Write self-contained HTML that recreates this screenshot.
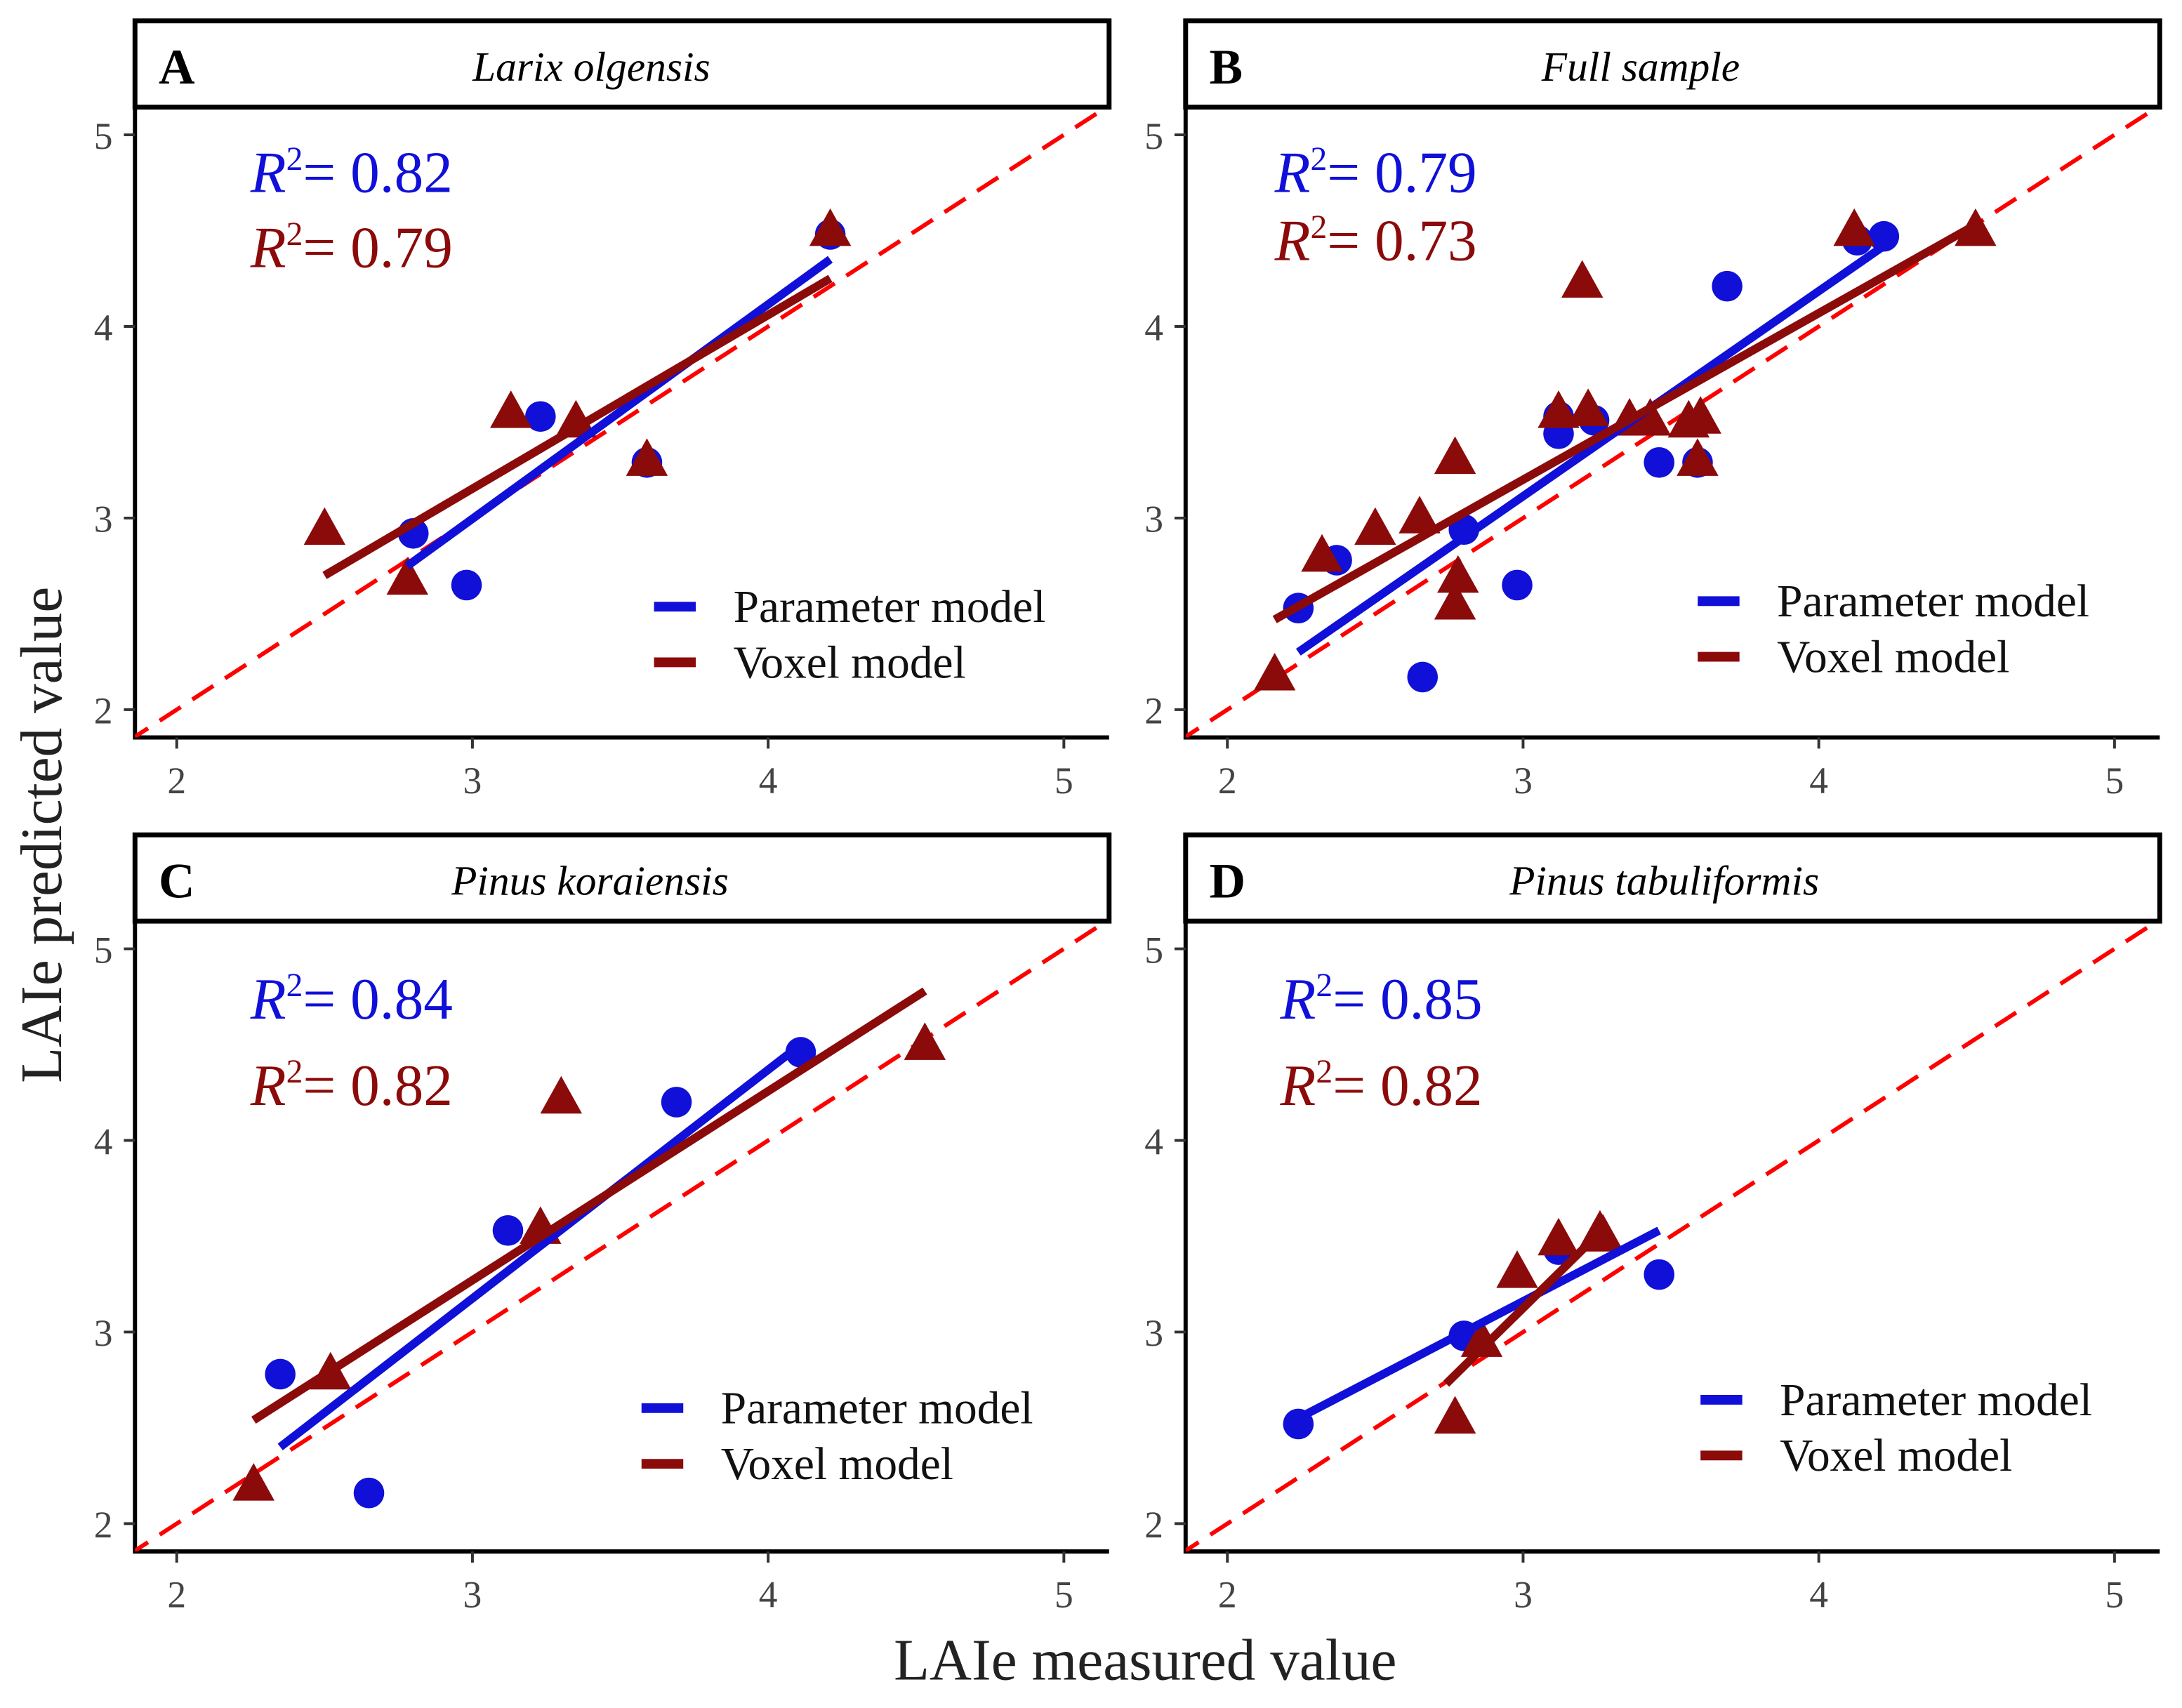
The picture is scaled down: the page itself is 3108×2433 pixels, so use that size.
<!DOCTYPE html>
<html><head><meta charset="utf-8">
<style>html,body{margin:0;padding:0;background:#fff}svg{display:block}</style></head>
<body>
<svg id="chart" xmlns="http://www.w3.org/2000/svg" width="3108" height="2433" viewBox="0 0 1568 1227.5" preserveAspectRatio="none">
<text transform="translate(44,600) rotate(-90)" text-anchor="middle" font-family="Liberation Serif, serif" font-size="42" fill="#222">LAIe predicted value</text>
<text x="823" y="1207" text-anchor="middle" font-family="Liberation Serif, serif" font-size="42" fill="#222">LAIe measured value</text>
</svg>
<script>
const panelLetters = ['A','B','C','D'];
const panelTitles = ['Larix olgensis','Full sample','Pinus koraiensis','Pinus tabuliformis'];
const r2Param = ['0.82','0.79','0.84','0.85'];
const r2Voxel = ['0.79','0.73','0.82','0.82'];
const ticks = [2,3,4,5];
const aParamX=[2.80,2.98,3.23,3.59,4.21], aParamY=[2.92,2.65,3.53,3.29,4.48];
const aVoxX=[2.50,2.78,3.13,3.35,3.59,4.21], aVoxY=[2.94,2.68,3.55,3.50,3.30,4.50];
const bParamX=[2.24,2.37,2.66,2.80,2.98,3.12,3.12,3.24,3.46,3.59,3.69,4.13,4.22];
const bParamY=[2.53,2.78,2.17,2.94,2.65,3.53,3.44,3.51,3.29,3.29,4.21,4.45,4.47];
const bVoxX=[2.16,2.32,2.50,2.65,2.77,2.78,2.77,3.12,3.22,3.20,3.36,3.43,3.56,3.60,3.59,4.12,4.53];
const bVoxY=[2.18,2.80,2.94,3.00,3.31,2.69,2.55,3.55,3.56,4.23,3.51,3.51,3.50,3.52,3.30,4.50,4.50];
const cParamX=[2.35,2.65,3.12,3.69,4.11], cParamY=[2.78,2.16,3.53,4.20,4.46];
const cVoxX=[2.26,2.52,3.23,3.30,4.53], cVoxY=[2.20,2.78,3.54,4.22,4.50];
const dParamX=[2.24,2.80,3.12,3.46], dParamY=[2.52,2.98,3.43,3.30];
const dVoxX=[2.77,2.86,2.98,3.12,3.26,3.27], dVoxY=[2.55,2.95,3.31,3.48,3.52,3.50];
const paramFitX=[[2.78,4.21],[2.24,4.22],[2.35,4.11],[2.24,3.46]];
const paramFitY=[[2.75,4.35],[2.30,4.42],[2.40,4.50],[2.55,3.53]];
const voxFitX=[[2.50,4.21],[2.16,4.53],[2.26,4.53],[2.74,3.26]];
const voxFitY=[[2.70,4.25],[2.47,4.53],[2.54,4.78],[2.73,3.52]];

const P=[[aParamX,aParamY,aVoxX,aVoxY],[bParamX,bParamY,bVoxX,bVoxY],[cParamX,cParamY,cVoxX,cVoxY],[dParamX,dParamY,dVoxX,dVoxY]];
const NS='http://www.w3.org/2000/svg';
const svg=document.getElementById('chart');
function mk(tag,attrs,parent){const e=document.createElementNS(NS,tag);for(const k in attrs)e.setAttribute(k,attrs[k]);(parent||svg).appendChild(e);return e;}
const BLUE='#1010d8', DRED='#8b0a0a';
const legendPos=[[470,436],[1220,432],[461,1012],[1222,1006]];
const r2Pos=[[180,124,178],[916,124,173],[180,718,780],[920,718,780]];
const titleCx=[425,1179,424,1196];
for(let i=0;i<4;i++){
  const ox=(i%2)*755, oy=Math.floor(i/2)*585;
  const xs=v=>127+ox+212.5*(v-2), ys=v=>510+oy-137.7*(v-2);
  const g=mk('g',{});
  
  
  const L=97+ox,R=797+ox,T=77+oy,B=530+oy;
  const cid='clip'+i;
  const cp=mk('clipPath',{id:cid},g);mk('rect',{x:L,y:T,width:R-L,height:B-T},cp);
  const hb=mk('rect',{x:L,y:15+oy,width:R-L,height:62,fill:'#fff',stroke:'#000','stroke-width':3.5},g);
  
  
  const lt=mk('text',{x:L+17,y:60+oy,'font-family':'Liberation Serif, serif','font-size':36,'font-weight':'bold'},g);lt.textContent=panelLetters[i];
  
  
  const tt=mk('text',{x:titleCx[i],y:58+oy,'text-anchor':'middle','font-family':'Liberation Serif, serif','font-size':30,'font-style':'italic'},g);tt.textContent=panelTitles[i];
  
  
  mk('line',{x1:L,y1:T,x2:L,y2:B+1.5,stroke:'#000','stroke-width':3},g);
  mk('line',{x1:L,y1:B,x2:R,y2:B,stroke:'#000','stroke-width':3},g);
  ticks.forEach(t=>{
    mk('line',{x1:xs(t),y1:B,x2:xs(t),y2:B+8,stroke:'#333','stroke-width':2},g);
    const xl=mk('text',{x:xs(t),y:B+40,'text-anchor':'middle','font-family':'Liberation Serif, serif','font-size':27,fill:'#444'},g);xl.textContent=t;
    
    
    mk('line',{x1:L-8,y1:ys(t),x2:L,y2:ys(t),stroke:'#333','stroke-width':2},g);
    const yl=mk('text',{x:L-16,y:ys(t)+10,'text-anchor':'end','font-family':'Liberation Serif, serif','font-size':27,fill:'#444'},g);yl.textContent=t;
    
    
  });
  const inner=mk('g',{'clip-path':'url(#'+cid+')'},g);
  const ref=mk('line',{x1:xs(1.5),y1:ys(1.5),x2:xs(5.5),y2:ys(5.5),stroke:'#f00','stroke-width':3,'stroke-dasharray':'18,10'},inner);
  
  
  const [px,py,vx,vy]=P[i];
  px.forEach((x,k)=>{const c=mk('circle',{cx:xs(x),cy:ys(py[k]),r:11,fill:BLUE},inner);
    
    });
  vx.forEach((x,k)=>{const cx=xs(x),cy=ys(vy[k]);const t=mk('polygon',{points:`${cx},${cy-16} ${cx-15},${cy+11} ${cx+15},${cy+11}`,fill:DRED},inner);
    
    });
  const pf=mk('line',{x1:xs(paramFitX[i][0]),y1:ys(paramFitY[i][0]),x2:xs(paramFitX[i][1]),y2:ys(paramFitY[i][1]),stroke:BLUE,'stroke-width':6},inner);
  
  
  const vf=mk('line',{x1:xs(voxFitX[i][0]),y1:ys(voxFitY[i][0]),x2:xs(voxFitX[i][1]),y2:ys(voxFitY[i][1]),stroke:DRED,'stroke-width':6},inner);
  
  
  const [rx,ry1,ry2]=r2Pos[i];
  [[ry1,BLUE,r2Param[i]],[ry2,DRED,r2Voxel[i]]].forEach(([yy,col,val])=>{
    const t=mk('text',{x:rx,y:yy+14,'font-family':'Liberation Serif, serif','font-size':42,fill:col},g);
    t.innerHTML='<tspan font-style="italic">R</tspan><tspan dy="-16" font-size="24">2</tspan><tspan dy="16">= '+val+'</tspan>';
    
    
  });
  const [lx,ly]=legendPos[i];
  [[ly,BLUE,'Parameter model'],[ly+40,DRED,'Voxel model']].forEach(([yy,col,lab])=>{
    const e=mk('g',{},g);
    
    
    mk('line',{x1:lx,y1:yy,x2:lx+30,y2:yy,stroke:col,'stroke-width':7},e);
    const t=mk('text',{x:lx+57,y:yy+11,'font-family':'Liberation Serif, serif','font-size':33,fill:'#111'},e);t.textContent=lab;
  });
}
</script>
</body></html>
